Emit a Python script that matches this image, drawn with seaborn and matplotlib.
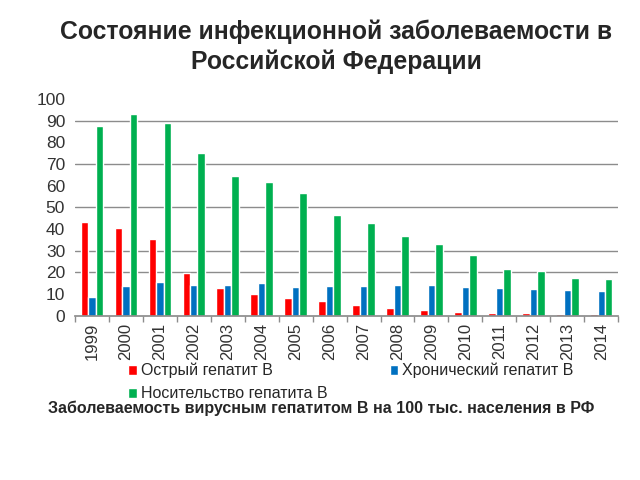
import pandas as pd
import seaborn as sns
import matplotlib.pyplot as plt
from matplotlib.ticker import FixedLocator

years = [str(y) for y in range(1999, 2015)]
acute = [43.3, 40.6, 35.2, 19.6, 12.7, 10.0, 8.3, 6.7, 5.1, 3.8, 2.6, 1.8, 1.4, 1.1, 0.9, 0.9]
chronic = [8.7, 13.9, 15.6, 14.2, 14.4, 15.3, 13.5, 13.6, 13.6, 14.1, 14.1, 13.3, 12.9, 12.4, 12.1, 11.6]
carrier = [87.6, 93.1, 88.8, 74.9, 64.6, 61.9, 56.5, 46.7, 42.6, 36.6, 32.9, 28.0, 21.7, 20.5, 17.6, 16.8]
series = ['Острый гепатит В', 'Хронический гепатит В', 'Носительство гепатита В']
colors = ['#FF0000', '#0070C0', '#00B050']

df = pd.DataFrame({
    'year': years * 3,
    'value': acute + chronic + carrier,
    'series': [series[0]] * 16 + [series[1]] * 16 + [series[2]] * 16,
})

sns.set_theme(style='white')
plt.rcParams['font.family'] = ['Liberation Sans', 'DejaVu Sans']

fig = plt.figure(figsize=(6.4, 4.8), dpi=100)
ax = fig.add_axes([0.117, 0.342, 0.849, 0.452])

sns.barplot(data=df, x='year', y='value', hue='series', palette=colors,
            width=0.66, saturation=1, ax=ax, legend=True)

ax.set_ylim(0, 100)
ax.set_xlim(-0.5, 15.5)
ax.set_yticks(range(0, 101, 10))
ax.tick_params(axis='y', labelsize=12.5, length=0, pad=7, labelcolor='#333333')
ax.tick_params(axis='x', labelsize=12, length=0, rotation=90, pad=5, labelcolor='#333333')
ax.set_xlabel('')
ax.set_ylabel('')

# gridlines as seen in the picture
for g in [20, 30, 50, 70, 90]:
    ax.axhline(g, color='#8c8c8c', lw=1, zorder=0)

for s in ['top', 'right', 'left']:
    ax.spines[s].set_visible(False)
ax.spines['bottom'].set_color('#8c8c8c')
ax.xaxis.set_minor_locator(FixedLocator([i + 0.5 for i in range(-1, 16)]))
ax.tick_params(axis='x', which='minor', length=4, color='#8c8c8c', bottom=True, direction='out')

# legend: row-wise order (acute, chronic / carrier)
handles, labels = ax.get_legend_handles_labels()
order = [0, 2, 1]
ax.get_legend().remove()
fig.legend([handles[i] for i in order], [labels[i] for i in order], ncol=2,
           frameon=False, loc='upper left', bbox_to_anchor=(0.2, 0.244),
           borderaxespad=0, borderpad=0, fontsize=11.5, handlelength=0.55,
           handleheight=0.55, handletextpad=0.25, columnspacing=3.9, labelspacing=0.5)

fig.text(0.525, 0.903, 'Состояние инфекционной заболеваемости в\nРоссийской Федерации',
         ha='center', va='center', fontsize=17.8, fontweight='bold', linespacing=1.3)
fig.text(0.075, 0.149, 'Заболеваемость вирусным гепатитом В на 100 тыс. населения в РФ',
         ha='left', va='center', fontsize=11.5, fontweight='bold')

fig.savefig('out.png', dpi=100)
